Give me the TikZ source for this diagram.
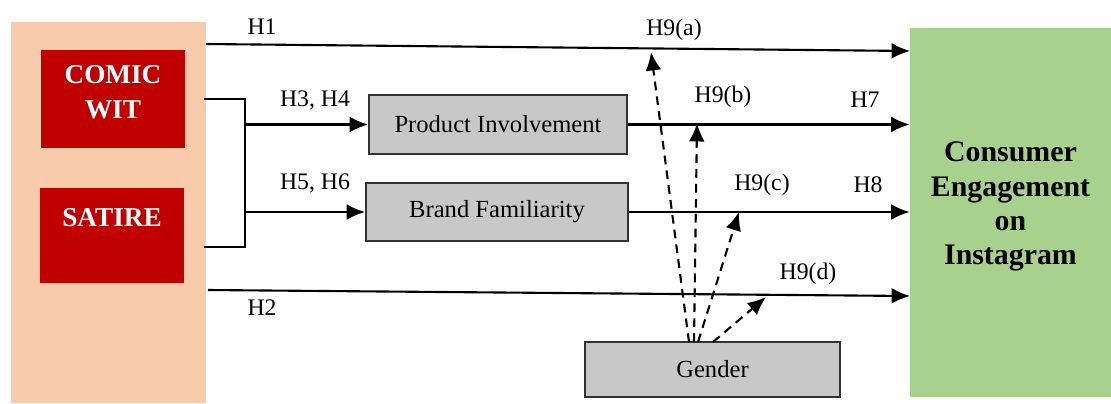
\documentclass[tikz,border=0pt]{standalone}
\usepackage{fontspec}
\setmainfont{Liberation Serif}
\usetikzlibrary{arrows.meta}
\definecolor{peach}{RGB}{248,203,173}
\definecolor{darkred}{RGB}{192,0,0}
\definecolor{boxgray}{RGB}{200,200,200}
\definecolor{leafgreen}{RGB}{169,209,142}
\tikzset{
  fleche/.style={line width=1.2pt,-{Latex[length=10.5pt,width=9pt]}},
  tirets/.style={fleche,dash pattern=on 5pt off 3.5pt},
  grisbox/.style={draw=black!80,line width=1pt,fill=boxgray,inner sep=0pt,font=\fontsize{14}{17}\selectfont},
  rougebox/.style={fill=darkred,text=white,inner sep=0pt,align=center,font=\bfseries\fontsize{15.5}{20}\selectfont},
  etiq/.style={font=\fontsize{13.5}{16}\selectfont,inner sep=0pt},
}

\begin{document}
\begin{tikzpicture}[x=0.02cm,y=-0.02cm]
            \useasboundingbox (0,0) rectangle (1111,403);
            % blocs
            \node[fill=peach,minimum width=3.9cm,minimum height=7.62cm,inner sep=0pt] (panel) at (108.5,212.5) {};
            \node[rougebox,minimum width=2.88cm,minimum height=1.96cm] (comic) at (113,99) {COMIC\\WIT\\[-12pt]\mbox{}};
            \node[rougebox,minimum width=2.88cm,minimum height=1.9cm] (satire) at (112,235.5) {SATIRE\\\mbox{}};
            \node[grisbox,minimum width=5.16cm,minimum height=1.18cm] (prod) at (498,124.5) {Product Involvement};
            \node[grisbox,minimum width=5.24cm,minimum height=1.16cm] (brand) at (497,212) {Brand Familiarity};
            \node[grisbox,minimum width=5.1cm,minimum height=1.1cm] (gender) at (712.5,369.5) {Gender};
            \node[fill=leafgreen,minimum width=4.02cm,minimum height=7.38cm,inner sep=0pt,align=center,
                  font=\bfseries\fontsize{17}{19.5}\selectfont] (eng) at (1010.5,212.5) {Consumer\\Engagement\\on\\Instagram\\[-9pt]\mbox{}};
            % points
            \coordinate (h1a) at (206,44);
            \coordinate (h1b) at (910,51);
            \coordinate (h2a) at (208,290);
            \coordinate (h2b) at (910,296);
            \coordinate (b1) at (204,99);
            \coordinate (b2) at (245,99);
            \coordinate (b3) at (245,247);
            \coordinate (b4) at (204,247);
            \coordinate (g1) at (689,342);
            \coordinate (g2) at (694,342);
            \coordinate (g3) at (698,342);
            \coordinate (g4) at (713,342);
            \coordinate (t1) at (651,52);
            \coordinate (t2) at (697,123);
            \coordinate (t3) at (739,212);
            \coordinate (t4) at (766,297);
            % fleches
            \draw[fleche] (h1a) -- (h1b);
            \draw[fleche] (h2a) -- (h2b);
            \draw[line width=1.2pt] (b1) -- (b2) -- (b3) -- (b4);
            \draw[fleche] (b2 |- prod.west) -- (prod.west);
            \draw[fleche] (b2 |- brand.west) -- (brand.west);
            \draw[fleche] (prod.east) -- (prod.east -| eng.west);
            \draw[fleche] (brand.east) -- (brand.east -| eng.west);
            \draw[tirets] (g1) -- (t1);
            \draw[tirets] (g2) -- (t2);
            \draw[tirets] (g3) -- (t3);
            \draw[tirets] (g4) -- (t4);
            % etiquettes
            \node[etiq] (lh1) at (262,27) {H1};
            \node[etiq] (lh2) at (262,308) {H2};
            \node[etiq] (lh34) at (315,100) {H3, H4};
            \node[etiq] (lh56) at (315,183) {H5, H6};
            \node[etiq] (lh7) at (865,100) {H7};
            \node[etiq] (lh8) at (868,185) {H8};
            \node[etiq] (lh9a) at (674,30) {H9(a)};
            \node[etiq] (lh9b) at (723,97) {H9(b)};
            \node[etiq] (lh9c) at (762,185) {H9(c)};
            \node[etiq] (lh9d) at (808,274) {H9(d)};
        \end{tikzpicture}
\end{document}
